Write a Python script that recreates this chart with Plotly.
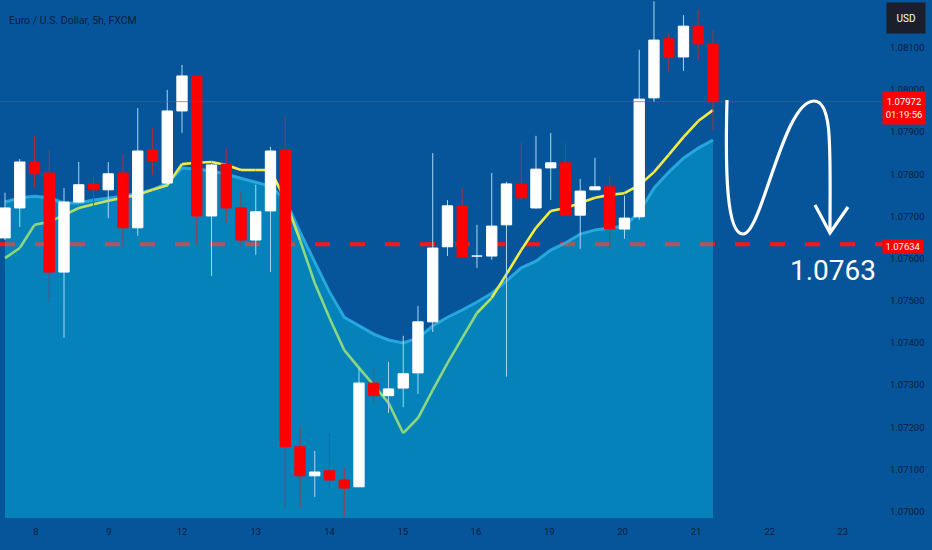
import plotly.graph_objects as go

# ---------------- data (EUR/USD, 5h candles, FXCM) ----------------
open_ = [1.07649, 1.07720, 1.07829, 1.07803, 1.07568, 1.07734, 1.07777, 1.07763, 1.07803, 1.07673,
         1.07858, 1.07779, 1.07950, 1.08033, 1.07701, 1.07824, 1.07720, 1.07644, 1.07713, 1.07858,
         1.07154, 1.07085, 1.07097, 1.07075, 1.07059, 1.07305, 1.07275, 1.07293, 1.07329, 1.07450,
         1.07628, 1.07725, 1.07606, 1.07606, 1.07680, 1.07777, 1.07720, 1.07815, 1.07827, 1.07703,
         1.07763, 1.07770, 1.07670, 1.07699, 1.07981, 1.08121, 1.08078, 1.08151, 1.08109]
high_ = [1.07756, 1.07836, 1.07891, 1.07858, 1.07767, 1.07829, 1.07794, 1.07829, 1.07848, 1.07957,
         1.07910, 1.08000, 1.08059, 1.08035, 1.07824, 1.07862, 1.07758, 1.07775, 1.07865, 1.07940,
         1.07203, 1.07144, 1.07187, 1.07104, 1.07343, 1.07341, 1.07355, 1.07417, 1.07488, 1.07850,
         1.07739, 1.07767, 1.07680, 1.07803, 1.07782, 1.07874, 1.07891, 1.07898, 1.07874, 1.07789,
         1.07839, 1.07796, 1.07749, 1.08095, 1.08210, 1.08135, 1.08177, 1.08189, 1.08142]
low_ = [1.07644, 1.07675, 1.07767, 1.07497, 1.07412, 1.07732, 1.07725, 1.07696, 1.07628, 1.07654,
        1.07798, 1.07770, 1.07898, 1.07632, 1.07559, 1.07685, 1.07628, 1.07609, 1.07568, 1.07009,
        1.07009, 1.07035, 1.07056, 1.06988, 1.07059, 1.07258, 1.07234, 1.07248, 1.07279, 1.07426,
        1.07606, 1.07604, 1.07578, 1.07597, 1.07320, 1.07739, 1.07718, 1.07739, 1.07703, 1.07623,
        1.07763, 1.07623, 1.07647, 1.07692, 1.07971, 1.08042, 1.08045, 1.08071, 1.07905]
close_ = [1.07720, 1.07829, 1.07801, 1.07568, 1.07734, 1.07775, 1.07763, 1.07801, 1.07673, 1.07855,
          1.07831, 1.07950, 1.08033, 1.07701, 1.07822, 1.07720, 1.07644, 1.07711, 1.07855, 1.07154,
          1.07085, 1.07094, 1.07075, 1.07056, 1.07305, 1.07275, 1.07291, 1.07327, 1.07450, 1.07625,
          1.07725, 1.07604, 1.07607, 1.07677, 1.07777, 1.07744, 1.07812, 1.07827, 1.07703, 1.07760,
          1.07770, 1.07670, 1.07696, 1.07978, 1.08118, 1.08078, 1.08151, 1.08109, 1.07972]
# fast moving average (yellow / green line)
ema_fast = [1.07601, 1.07625, 1.07680, 1.07687, 1.07703, 1.07720, 1.07729, 1.07737, 1.07744, 1.07751,
            1.07763, 1.07774, 1.07824, 1.07827, 1.07829, 1.07822, 1.07810, 1.07810, 1.07810, 1.07739,
            1.07644, 1.07542, 1.07459, 1.07383, 1.07341, 1.07300, 1.07258, 1.07186, 1.07222, 1.07288,
            1.07352, 1.07412, 1.07471, 1.07507, 1.07563, 1.07620, 1.07673, 1.07713, 1.07720, 1.07732,
            1.07744, 1.07751, 1.07755, 1.07774, 1.07805, 1.07846, 1.07888, 1.07926, 1.07952]
# slow moving average (filled area)
ma_slow = [1.07734, 1.07744, 1.07748, 1.07744, 1.07732, 1.07732, 1.07739, 1.07744, 1.07748, 1.07755,
           1.07763, 1.07779, 1.07815, 1.07812, 1.07808, 1.07800, 1.07790, 1.07781, 1.07772, 1.07739,
           1.07663, 1.07592, 1.07521, 1.07461, 1.07440, 1.07421, 1.07407, 1.07400, 1.07412, 1.07440,
           1.07461, 1.07478, 1.07497, 1.07518, 1.07547, 1.07578, 1.07594, 1.07620, 1.07637, 1.07658,
           1.07668, 1.07673, 1.07677, 1.07710, 1.07767, 1.07805, 1.07838, 1.07862, 1.07881]

day_labels = ["8", "9", "12", "13", "14", "15", "16", "19", "20", "21", "22", "23"]
day_pos = [2.1, 7.05, 12, 17, 22, 26.97, 31.93, 36.9, 41.87, 46.85, 51.85, 56.8]

target_level = 1.07634
last_price = 1.07972
timer_text = "01:19:56"

# ---------------- styling ----------------
BG = "#06559b"
AXIS_TXT = "#0b1d3a"
FONT = "Roboto, Liberation Sans, Arial, sans-serif"

X_RANGE = [-0.34, 59.19]
Y_RANGE = [1.06985, 1.08213]
PLOT_W, PLOT_H = 878, 518
BODY_HALF = 0.35

n = len(close_)
idx = list(range(n))

fig = go.Figure()

# filled slow MA area (semi-transparent so the dashed level shows through muted)
fig.add_trace(go.Scatter(x=idx, y=[1.0690] * n, mode="lines", line=dict(width=0),
                         hoverinfo="skip", showlegend=False))
fig.add_trace(go.Scatter(x=idx, y=ma_slow, mode="lines", fill="tonexty",
                         fillcolor="rgba(0,235,255,0.30)",
                         line=dict(color="rgba(45,178,230,0.85)", width=3),
                         hoverinfo="skip", showlegend=False))

# fast MA drawn segment by segment, colour depending on its position vs slow MA
green = (140, 215, 125)
yellow = (245, 235, 70)
for i in range(n - 1):
    diff = (ema_fast[i] + ema_fast[i + 1]) / 2 - (ma_slow[i] + ma_slow[i + 1]) / 2
    t = max(0.0, min(1.0, (diff + 0.0003) / 0.0004))
    col = tuple(int(round(g + (yy - g) * t)) for g, yy in zip(green, yellow))
    fig.add_trace(go.Scatter(x=[i, i + 1], y=[ema_fast[i], ema_fast[i + 1]], mode="lines",
                             line=dict(color="rgb(%d,%d,%d)" % col, width=2.6),
                             hoverinfo="skip", showlegend=False))

# candles (drawn as scatter traces so they sit above the filled area)
wick = {True: ([], []), False: ([], [])}
body = {True: ([], []), False: ([], [])}
for i in idx:
    up = close_[i] >= open_[i]
    wick[up][0].extend([i, i, None])
    wick[up][1].extend([low_[i], high_[i], None])
    x0, x1 = i - BODY_HALF, i + BODY_HALF
    body[up][0].extend([x0, x1, x1, x0, x0, None])
    body[up][1].extend([open_[i], open_[i], close_[i], close_[i], open_[i], None])

wick_col = {True: "#a9d6f2", False: "rgba(190,45,50,0.85)"}
body_col = {True: "#ffffff", False: "#ff0000"}
for up in (False, True):
    fig.add_trace(go.Scatter(x=wick[up][0], y=wick[up][1], mode="lines",
                             line=dict(color=wick_col[up], width=1),
                             hoverinfo="skip", showlegend=False))
for up in (False, True):
    fig.add_trace(go.Scatter(x=body[up][0], y=body[up][1], mode="lines", fill="toself",
                             fillcolor=body_col[up], line=dict(color=body_col[up], width=1),
                             hoverinfo="skip", showlegend=False))


def dx(px):
    return X_RANGE[0] + px / PLOT_W * (X_RANGE[1] - X_RANGE[0])


def dy(py):
    return Y_RANGE[1] - py / PLOT_H * (Y_RANGE[1] - Y_RANGE[0])


def P(px, py):
    return "%.4f,%.6f" % (dx(px), dy(py))


arrow_path = ("M " + P(727, 100) + " C " + P(725, 175) + " " + P(727, 234) + " " + P(743, 234) +
              " C " + P(762, 234) + " " + P(783, 101) + " " + P(814, 101) +
              " C " + P(833, 101) + " " + P(830, 150) + " " + P(830, 232))
head_path = "M " + P(815, 205) + " L " + P(830, 233) + " L " + P(848, 207)

shapes = [
    dict(type="line", xref="paper", yref="y", x0=0, x1=883 / PLOT_W, y0=target_level, y1=target_level,
         line=dict(color="#ff1414", width=4, dash="15px,20px"), layer="below"),
    dict(type="line", xref="paper", yref="y", x0=0, x1=883 / PLOT_W, y0=last_price, y1=last_price,
         line=dict(color="rgba(215,40,40,0.6)", width=1), layer="above"),
    dict(type="path", xref="x", yref="y", path=arrow_path,
         line=dict(color="#ffffff", width=3.2), layer="above"),
    dict(type="path", xref="x", yref="y", path=head_path,
         line=dict(color="#ffffff", width=3.2), layer="above"),
]

annotations = [
    dict(xref="paper", yref="paper", x=7 / PLOT_W, y=(PLOT_H - 20) / PLOT_H, xanchor="left",
         yanchor="middle", text="Euro / U.S. Dollar, 5h, FXCM", showarrow=False,
         font=dict(family=FONT, size=10.5, color=AXIS_TXT)),
    dict(xref="paper", yref="paper", x=906 / PLOT_W, y=(PLOT_H - 18) / PLOT_H, xanchor="center",
         yanchor="middle", text="USD", showarrow=False, bgcolor="#1a1f2b", width=26, height=18,
         borderpad=6, font=dict(family=FONT, size=10, color="#ffffff")),
    dict(xref="paper", yref="y", x=904 / PLOT_W, y=last_price, yshift=-6.5, xanchor="center",
         yanchor="middle", text="%.5f<br>%s" % (last_price, timer_text), showarrow=False,
         bgcolor="#ff0000", width=38, height=28, borderpad=2,
         font=dict(family=FONT, size=9.5, color="#ffffff")),
    dict(xref="paper", yref="y", x=903 / PLOT_W, y=target_level, yshift=-2.5, xanchor="center",
         yanchor="middle", text="%.5f" % target_level, showarrow=False,
         bgcolor="#ff0000", width=38, height=11, borderpad=1,
         font=dict(family=FONT, size=9.5, color="#ffffff")),
    dict(xref="paper", yref="paper", x=833 / PLOT_W, y=(PLOT_H - 270) / PLOT_H, xanchor="center",
         yanchor="middle", text="%.4f" % target_level, showarrow=False,
         font=dict(family=FONT, size=28, color="#ffffff")),
]

fig.update_layout(
    width=932, height=550,
    margin=dict(l=0, r=932 - PLOT_W, t=0, b=550 - PLOT_H),
    paper_bgcolor=BG, plot_bgcolor=BG,
    showlegend=False, hovermode=False,
    shapes=shapes, annotations=annotations,
    xaxis=dict(range=X_RANGE, showgrid=False, zeroline=False,
               showline=False, ticks="", tickmode="array", tickvals=day_pos, ticktext=day_labels,
               ticklabelstandoff=6, tickfont=dict(family=FONT, size=9.5, color=AXIS_TXT)),
    yaxis=dict(range=Y_RANGE, side="right", showgrid=False, zeroline=False, showline=False,
               ticks="", tickmode="linear", tick0=1.07, dtick=0.001, tickformat=".5f",
               ticklabelstandoff=11, tickfont=dict(family=FONT, size=9.5, color=AXIS_TXT)),
)

fig.write_html("out.html", config={"displayModeBar": False},
               post_script="document.body.style.margin='0';document.body.style.overflow='hidden';")
